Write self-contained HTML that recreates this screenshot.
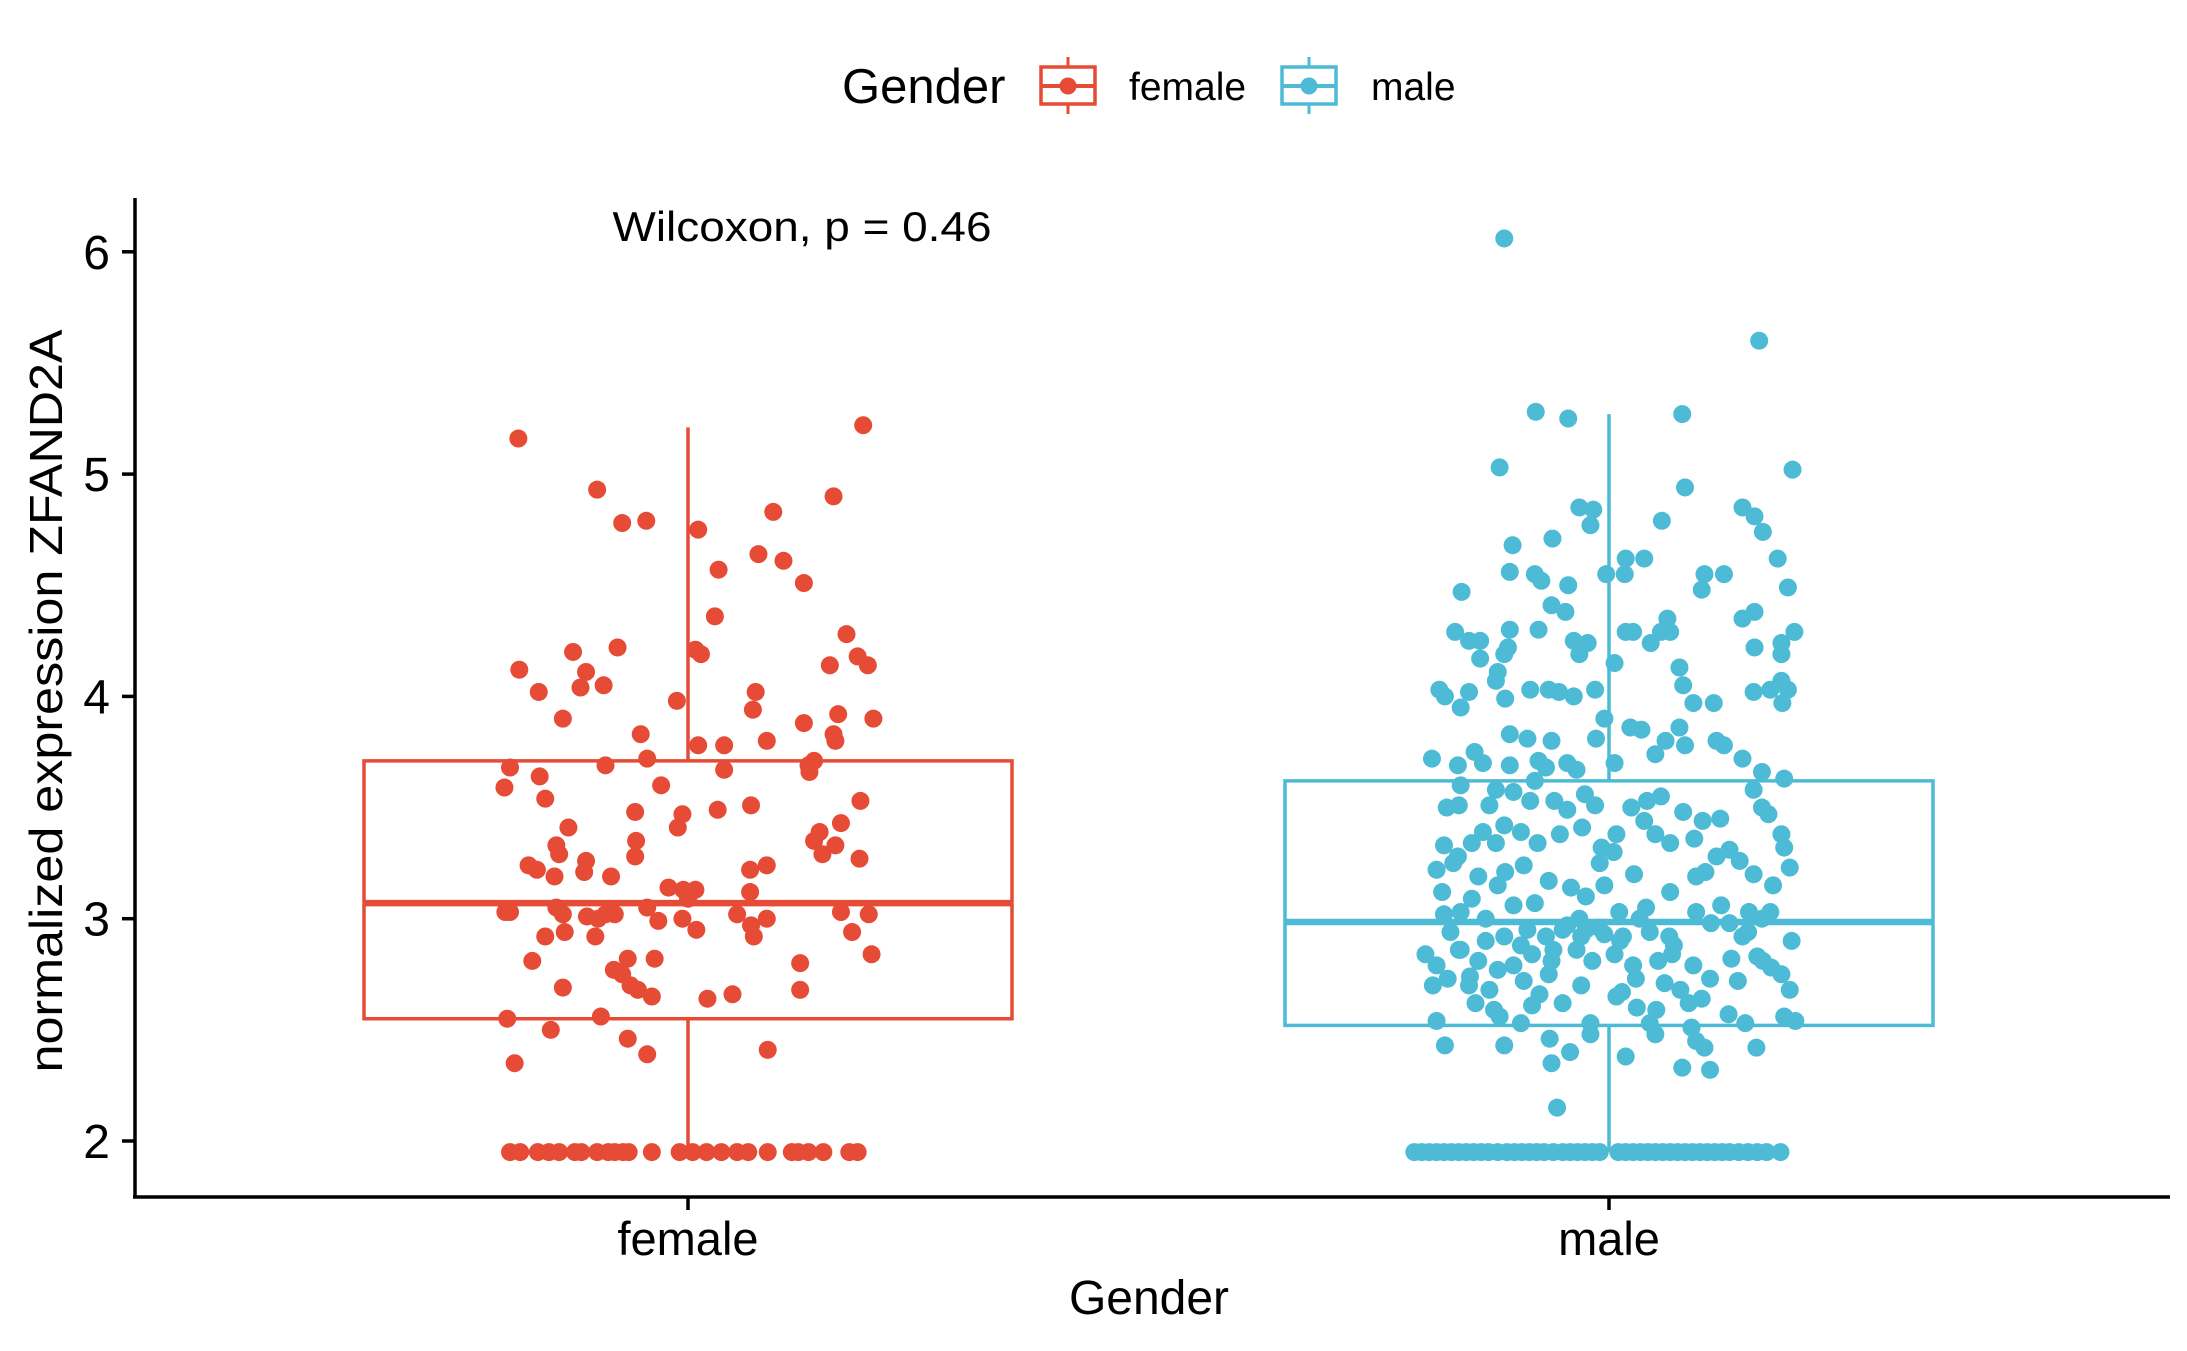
<!DOCTYPE html>
<html><head><meta charset="utf-8"><style>
html,body{margin:0;padding:0;background:#fff;}
svg{display:block;font-family:"Liberation Sans",Arial,sans-serif;}
</style></head><body>
<svg id="chart" width="2187" height="1351" viewBox="0 0 2187 1351" xmlns="http://www.w3.org/2000/svg">
<g id="plot"></g>
<g id="axes"></g>
<g id="legend">
  <text x="842" y="103" font-size="49" fill="#000">Gender</text>
  <g>
    <line x1="1068" y1="57" x2="1068" y2="114" stroke="#E64B35" stroke-width="3"/>
    <rect x="1041" y="67" width="54" height="37" fill="#fff" stroke="#E64B35" stroke-width="3.5"/>
    <line x1="1041" y1="86" x2="1095" y2="86" stroke="#E64B35" stroke-width="4"/>
    <circle cx="1068" cy="86" r="8.5" fill="#E64B35"/>
    <text x="1129" y="100" font-size="39" fill="#000">female</text>
  </g>
  <g>
    <line x1="1309" y1="57" x2="1309" y2="114" stroke="#4DBBD5" stroke-width="3"/>
    <rect x="1282" y="67" width="54" height="37" fill="#fff" stroke="#4DBBD5" stroke-width="3.5"/>
    <line x1="1282" y1="86" x2="1336" y2="86" stroke="#4DBBD5" stroke-width="4"/>
    <circle cx="1309" cy="86" r="8.5" fill="#4DBBD5"/>
    <text x="1371" y="100" font-size="39" fill="#000">male</text>
  </g>
</g>
<text x="802" y="241" font-size="42" text-anchor="middle" fill="#000" textLength="379" lengthAdjust="spacingAndGlyphs">Wilcoxon, p = 0.46</text>
<text x="1149" y="1314" font-size="48" text-anchor="middle" fill="#000">Gender</text>
<text transform="translate(62,701) rotate(-90)" font-size="46" text-anchor="middle" fill="#000" textLength="743" lengthAdjust="spacingAndGlyphs">normalized expression ZFAND2A</text>
</svg>
<script>
const categories = ["female","male"];
const colors = ["#E64B35","#4DBBD5"];
const yTicks = [2,3,4,5,6];
const boxQ1 = [2.55, 2.52];
const boxMedian = [3.07, 2.985];
const boxQ3 = [3.71, 3.62];
const whiskerLow = [1.95, 1.95];
const whiskerHigh = [5.21, 5.27];

const femaleValues = [5.16,4.93,4.78,4.79,4.75,4.57,4.83,4.64,4.61,4.51,4.90,5.22,4.36,4.12,4.02,4.20,4.11,4.04,4.05,4.22,3.90,4.21,4.19,3.98,4.02,3.94,4.28,4.18,4.14,4.14,3.90,3.88,3.83,3.72,3.69,3.68,3.64,3.54,3.59,3.41,3.33,3.29,3.24,3.22,3.26,3.21,3.19,3.19,3.48,3.35,3.28,3.60,3.47,3.41,3.78,3.67,3.49,3.51,3.80,3.78,3.69,3.71,3.66,3.80,3.92,3.83,3.43,3.53,3.39,3.35,3.29,3.33,3.27,3.24,3.22,3.12,3.14,3.13,3.13,3.09,3.05,3.03,3.03,3.05,3.02,3.02,3.01,3.00,3.02,2.92,2.94,2.92,2.99,3.00,2.95,3.02,2.97,2.92,3.00,3.03,3.02,2.94,2.81,2.77,2.82,2.82,2.75,2.70,2.68,2.65,2.80,2.84,2.69,2.64,2.66,2.68,2.55,2.56,2.50,2.46,2.39,2.41,2.35,
1.95,1.95,1.95,1.95,1.95,1.95,1.95,1.95,1.95,1.95,1.95,1.95,1.95,1.95,1.95,1.95,1.95,1.95,1.95,1.95,1.95,1.95,1.95,1.95,1.95,1.95];
const femaleJitter = [-0.183,-0.098,-0.071,-0.045,0.011,0.033,0.092,0.076,0.103,0.125,0.157,0.189,0.029,-0.182,-0.161,-0.124,-0.110,-0.116,-0.091,-0.076,-0.135,0.008,0.014,-0.012,0.073,0.070,0.171,0.183,0.194,0.153,0.200,0.125,-0.051,-0.044,-0.089,-0.192,-0.160,-0.154,-0.198,-0.129,-0.142,-0.139,-0.172,-0.163,-0.110,-0.112,-0.083,-0.144,-0.057,-0.056,-0.057,-0.029,-0.006,-0.011,0.011,0.039,0.032,0.068,0.085,0.039,0.130,0.136,0.131,0.159,0.162,0.157,0.165,0.186,0.142,0.136,0.145,0.159,0.185,0.085,0.067,0.067,-0.021,-0.005,0.008,0,-0.044,-0.197,-0.192,-0.142,-0.135,-0.089,-0.109,-0.097,-0.079,-0.154,-0.133,-0.100,-0.032,-0.006,0.009,0.053,0.068,0.071,0.085,0.165,0.195,0.177,-0.168,-0.080,-0.065,-0.036,-0.071,-0.062,-0.054,-0.039,0.121,0.198,-0.135,0.021,0.048,0.121,-0.195,-0.094,-0.148,-0.065,-0.044,0.086,-0.187,
-0.192,-0.181,-0.162,-0.150,-0.139,-0.122,-0.115,-0.098,-0.086,-0.079,-0.070,-0.064,-0.039,-0.009,0.005,0.020,0.036,0.053,0.065,0.086,0.112,0.119,0.130,0.146,0.174,0.183];

const maleValues = [6.06,5.60,5.28,5.25,5.27,5.03,5.02,
4.85,4.84,4.77,4.94,4.79,4.85,4.81,4.74,4.68,4.71,4.56,4.55,4.52,4.50,4.55,4.62,4.62,4.55,4.55,4.55,4.48,4.62,4.49,4.47,
4.41,4.38,4.30,4.30,4.29,4.25,4.25,4.22,4.19,4.17,4.25,4.24,4.19,4.29,4.29,4.24,4.29,4.35,4.29,4.13,4.15,4.35,4.38,4.22,4.24,4.29,4.19,4.11,4.07,4.03,4.00,4.02,3.95,3.99,4.03,4.03,4.02,4.00,4.03,3.90,4.05,3.97,3.97,4.02,4.03,4.07,4.03,3.97,
3.72,3.75,3.70,3.69,3.83,3.81,3.71,3.69,3.68,3.70,3.67,3.80,3.81,3.70,3.86,3.85,3.74,3.80,3.86,3.78,3.80,3.78,3.72,3.66,3.63,3.60,3.58,3.57,3.51,3.50,3.51,3.53,3.53,3.49,3.56,3.51,3.50,3.53,3.55,3.48,3.44,3.58,3.50,3.47,3.38,3.32,3.39,3.42,3.39,3.33,3.28,3.34,3.34,3.34,3.38,3.41,3.32,3.38,3.44,3.38,3.34,3.36,3.28,3.31,3.26,3.22,3.25,3.19,3.21,3.24,3.17,3.14,3.15,3.20,3.12,3.19,3.21,3.20,3.15,3.23,3.12,3.09,3.06,3.07,3.02,3.03,3.00,3.00,3.03,3.00,3.03,3.06,3.03,3.00,3.03,
2.94,2.90,2.92,2.95,2.92,2.95,2.92,2.96,2.92,2.94,2.92,2.98,2.92,2.90,2.84,2.79,2.86,2.81,2.79,2.84,2.81,2.86,2.81,2.84,2.79,2.81,2.84,2.79,2.82,2.81,2.75,2.73,2.70,2.68,2.72,2.75,2.70,2.67,2.73,2.68,2.73,2.72,2.68,2.62,2.59,2.61,2.62,2.65,2.59,2.62,2.57,2.56,2.54,2.56,2.53,2.53,2.53,2.51,2.53,2.54,
2.97,2.95,2.93,2.90,2.88,2.86,2.98,2.94,2.77,2.74,2.71,2.66,2.64,2.88,2.86,2.83,
3.10,3.05,3.25,3.45,3.62,2.78,2.70,2.60,3.30,3.15,
2.43,2.43,2.46,2.48,2.48,2.45,2.42,2.42,2.35,2.40,2.38,2.33,2.32,2.15,
1.95,1.95,1.95,1.95,1.95,1.95,1.95,1.95,1.95,1.95,1.95,1.95,1.95,1.95,1.95,1.95,1.95,1.95,1.95,1.95,1.95,1.95,1.95,1.95,1.95,1.95,1.95,1.95,1.95,1.95,1.95,1.95,1.95,1.95,1.95,1.95,1.95,1.95,1.95,1.95,1.95,1.95,1.95,1.95,1.95,1.95];
const maleJitter = [-0.113,0.162,-0.079,-0.044,0.079,-0.118,0.198,
-0.032,-0.017,-0.020,0.082,0.057,0.144,0.157,0.166,-0.104,-0.061,-0.107,-0.080,-0.073,-0.044,-0.003,0.018,0.038,0.017,0.103,0.124,0.100,0.182,0.193,-0.159,
-0.062,-0.047,-0.076,-0.107,-0.166,-0.151,-0.139,-0.109,-0.113,-0.139,-0.038,-0.023,-0.032,0.018,0.026,0.045,0.056,0.063,0.066,0.076,0.006,0.144,0.157,0.157,0.186,0.200,0.186,-0.120,-0.122,-0.183,-0.177,-0.151,-0.160,-0.112,-0.085,-0.065,-0.054,-0.038,-0.015,-0.005,0.080,0.091,0.113,0.156,0.174,0.186,0.193,0.187,
-0.191,-0.145,-0.136,-0.163,-0.107,-0.088,-0.076,-0.107,-0.068,-0.045,-0.035,-0.062,-0.014,0.006,0.023,0.035,0.050,0.061,0.076,0.082,0.116,0.124,0.144,0.165,0.189,-0.160,-0.122,-0.103,-0.162,-0.175,-0.129,-0.085,-0.059,-0.045,-0.026,-0.015,0.024,0.041,0.056,0.080,0.101,0.156,0.165,0.172,0.186,0.189,-0.136,-0.113,-0.095,-0.178,-0.163,-0.148,-0.122,-0.077,-0.053,-0.029,-0.008,0.008,0.038,0.050,0.066,0.092,0.116,0.130,0.141,-0.186,-0.168,-0.141,-0.112,-0.092,-0.065,-0.041,-0.005,0.027,0.066,0.094,0.104,0.156,0.177,0.195,-0.180,-0.148,-0.103,-0.080,-0.178,-0.160,-0.133,-0.032,0.011,0.033,0.094,0.121,0.151,0.165,0.174,
-0.171,-0.133,-0.113,-0.088,-0.068,-0.050,-0.030,-0.011,0.015,0.044,0.065,0.110,0.144,0.197,-0.198,-0.186,-0.162,-0.141,-0.103,-0.083,-0.062,-0.035,-0.018,0.006,0.026,0.053,0.068,0.091,0.132,0.166,0.186,-0.174,-0.151,-0.129,-0.092,-0.065,-0.030,0.014,0.029,0.077,0.109,0.139,0.195,-0.144,-0.124,-0.083,-0.050,0.008,0.051,0.086,0.129,0.189,-0.186,-0.118,-0.095,-0.020,0.044,0.089,0.147,0.201,
-0.045,-0.025,-0.005,0.012,-0.095,-0.060,0.130,0.150,-0.120,-0.150,0.060,-0.075,0.100,0.070,-0.160,0.160,
-0.025,0.040,-0.010,0.120,-0.080,0.175,-0.190,0.030,0.005,-0.120,
-0.177,-0.113,-0.064,-0.020,0.050,0.094,0.103,0.159,-0.062,-0.042,0.018,0.079,0.109,-0.056,
-0.210,-0.202,-0.194,-0.186,-0.178,-0.170,-0.162,-0.154,-0.146,-0.138,-0.130,-0.120,-0.110,-0.102,-0.094,-0.086,-0.078,-0.070,-0.060,-0.050,-0.042,-0.034,-0.026,-0.018,-0.010,0.010,0.018,0.026,0.034,0.042,0.050,0.058,0.066,0.074,0.082,0.090,0.098,0.106,0.114,0.122,0.130,0.140,0.150,0.160,0.170,0.185];

const NS="http://www.w3.org/2000/svg";
const X0=688, XSTEP=921, YBASE=1141, YUNIT=222.3, BOXHALF=324;
function xScale(i){return X0+i*XSTEP;}
function yScale(v){return YBASE-(v-2)*YUNIT;}
function mk(tag,attrs,parent){const e=document.createElementNS(NS,tag);for(const k in attrs)e.setAttribute(k,attrs[k]);parent.appendChild(e);return e;}
const plot=document.getElementById('plot');
const axes=document.getElementById('axes');

categories.forEach((c,i)=>{
  const g=mk('g',{},plot);
  
  
  const cx=xScale(i), col=colors[i];
  const w1=mk('line',{x1:cx,x2:cx,y1:yScale(boxQ3[i]),y2:yScale(whiskerHigh[i]),stroke:col,'stroke-width':3.5},g);
  
  
  const w2=mk('line',{x1:cx,x2:cx,y1:yScale(boxQ1[i]),y2:yScale(whiskerLow[i]),stroke:col,'stroke-width':3.5},g);
  
  
  const r=mk('rect',{x:cx-BOXHALF,y:yScale(boxQ3[i]),width:2*BOXHALF,height:yScale(boxQ1[i])-yScale(boxQ3[i]),fill:'none',stroke:col,'stroke-width':3.5},g);
  
  
  const m=mk('line',{x1:cx-BOXHALF,x2:cx+BOXHALF,y1:yScale(boxMedian[i]),y2:yScale(boxMedian[i]),stroke:col,'stroke-width':6.5},g);
  
  
});
function drawPoints(vals,jit,i,name){
  const g=mk('g',{fill:colors[i]},plot);
  
  
  vals.forEach((v,k)=>{
    const p=mk('circle',{cx:xScale(i)+jit[k]*927,cy:yScale(v),r:9},g);
    
    
  });
}
drawPoints(femaleValues,femaleJitter,0,'female');
drawPoints(maleValues,maleJitter,1,'male');

const yl=mk('line',{x1:135,x2:135,y1:198,y2:1198,stroke:'#000','stroke-width':3.5},axes);


const xl=mk('line',{x1:133,x2:2170,y1:1197,y2:1197,stroke:'#000','stroke-width':3.5},axes);


yTicks.forEach(t=>{
  const y=yScale(t);
  const tk=mk('line',{x1:122,x2:135,y1:y,y2:y,stroke:'#000','stroke-width':3.5},axes);
  
  
  const tx=mk('text',{x:110,y:y+17,'font-size':48,'text-anchor':'end',fill:'#000'},axes);
  
  
  tx.textContent=t;
});
categories.forEach((c,i)=>{
  const x=xScale(i);
  const tk=mk('line',{x1:x,x2:x,y1:1197,y2:1210,stroke:'#000','stroke-width':3.5},axes);
  
  
  const tx=mk('text',{x:x,y:1255,'font-size':47,'text-anchor':'middle',fill:'#000'},axes);
  
  
  tx.textContent=c;
});
</script>
</body></html>
